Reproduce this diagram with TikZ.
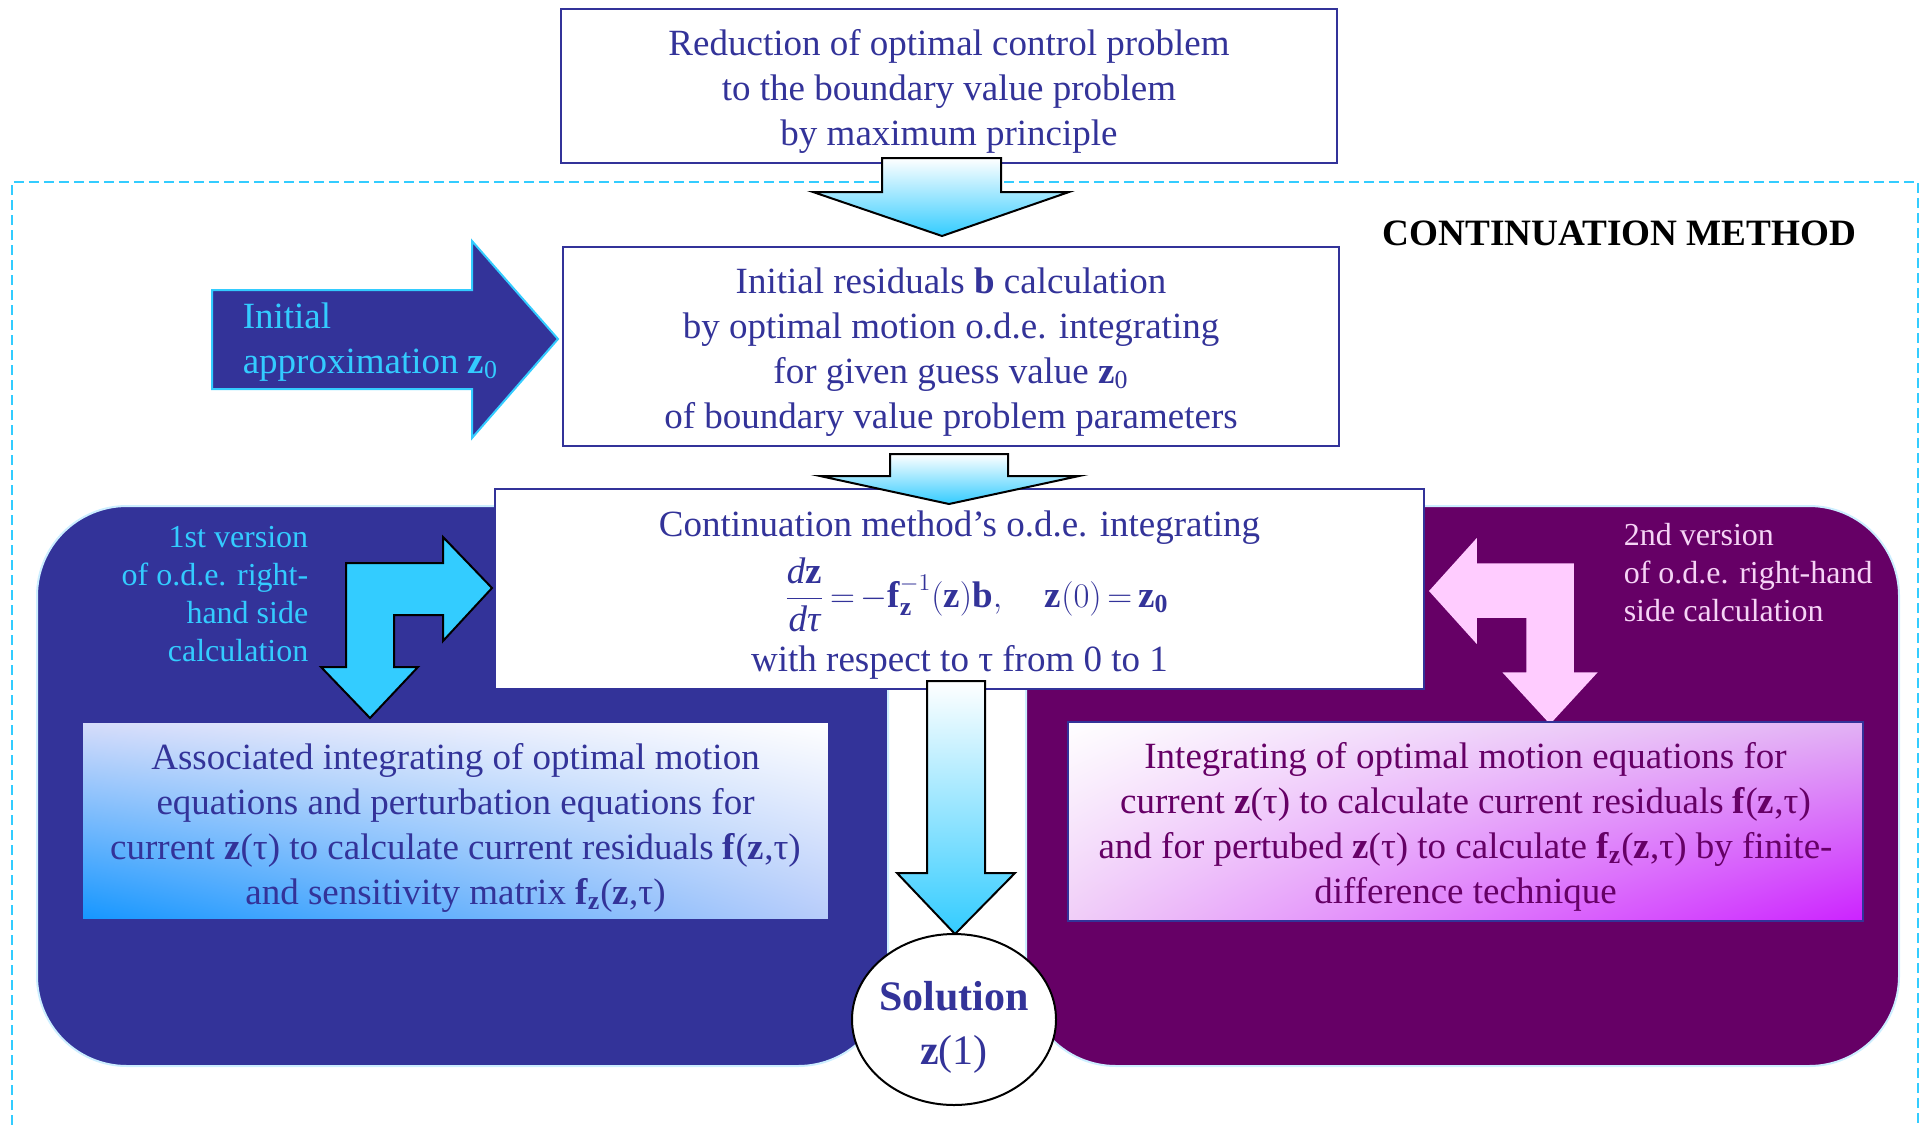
\documentclass[tikz,border=0pt]{standalone}
\usepackage{amsmath}
\usepackage{fontspec}
\setmainfont{Liberation Serif}
\usetikzlibrary{shapes.geometric,shadings}

\definecolor{navy}{RGB}{51,51,153}
\definecolor{plum}{RGB}{102,0,102}
\definecolor{skyarrow}{RGB}{51,204,255}
\definecolor{pinkarrow}{RGB}{255,204,255}
\definecolor{pinktext}{RGB}{246,212,246}
\definecolor{rimlight}{RGB}{204,238,255}
\definecolor{bluedeep}{RGB}{20,150,255}
\definecolor{bluetl}{RGB}{214,220,250}
\definecolor{bluebr}{RGB}{184,204,250}
\definecolor{violetdeep}{RGB}{204,34,255}
\definecolor{violettr}{RGB}{226,178,244}
\definecolor{violetbl}{RGB}{240,206,248}

\tikzset{every picture/.style={line width=0.75pt}}
\tikzset{
  flowbox/.style={draw=navy, fill=white, line width=1pt, inner sep=0pt},
  boxtext/.style={align=center, inner sep=0pt, text=navy, font=\fontsize{18.5}{22.5}\selectfont},
  sidenote/.style={inner sep=0pt, font=\fontsize{16}{19}\selectfont},
  fatdown/.style={draw=black, line width=1pt, top color=white, bottom color=skyarrow},
  region/.style={draw=rimlight, line width=1pt, rounded corners=45pt},
}

\begin{document}
\begin{tikzpicture}[x=0.5pt,y=0.5pt,yscale=-1,xscale=1]
	\useasboundingbox (0,0) rectangle (1925,1124);

	%Shape: Dashed Frame (runs below the bottom edge)
	\draw [skyarrow, dash pattern=on 5pt off 2.5pt, line width=1pt] (12,1140) -- (12,182) -- (1918,182) -- (1918,1140);

	%Shape: Rectangle
	\draw (949,86) node (reduce) [flowbox, minimum width=388pt, minimum height=77pt] {};
	% Text Node
	\draw (949,91) node (reduceText) [boxtext]
		{Reduction of optimal control problem\\to the boundary value problem\\by maximum principle};

	%Shape: Down Arrow
	\draw [fatdown] (882,158) -- (1001,158) -- (1001,192) -- (1069,192) -- (942,236) -- (813,192) -- (882,192) -- cycle ;

	% Text Node
	\draw (1619.5,245) node (title) [anchor=base, inner sep=0pt, font=\fontsize{18.6}{22}\selectfont\bfseries] {CONTINUATION METHOD};

	%Shape: Rectangle
	\draw (951,346.5) node (residual) [flowbox, minimum width=388pt, minimum height=99.5pt] {};
	% Text Node
	\draw (951,352) node (residualText) [boxtext]
		{Initial residuals \textbf{b} calculation\\by optimal motion o.d.e. integrating\\for given guess value \textbf{z}\textsubscript{0}\\of boundary value problem parameters};

	%Shape: Right Arrow
	\draw [fill=navy, draw=skyarrow, line width=1pt] (212,290) -- (472,290) -- (472,241) -- (558,339) -- (472,438) -- (472,389) -- (212,389) -- cycle ;
	% Text Node
	\draw (242,342) node (guess) [anchor=west, align=left, inner sep=0pt, text=skyarrow, font=\fontsize{18.5}{22.5}\selectfont]
		{Initial\\approximation \textbf{z}\textsubscript{0}};

	%Shape: Rounded Rectangle
	\draw [region, fill=navy] (37,506) rectangle (888,1066);
	%Shape: Rounded Rectangle
	\draw [region, fill=plum] (1026,506) rectangle (1899,1066);

	%Shape: Rectangle
	\draw (959.5,589) node (contin) [flowbox, minimum width=464.5pt, minimum height=100pt] {};
	% Text Node
	\draw (959.5,595) node (continText) [boxtext]
		{Continuation method’s o.d.e. integrating\\[6pt]
		\hspace*{17pt}$\displaystyle\frac{\textit{d}\textbf{z}}{\textit{dτ}}\,{=}\,{-}\textbf{f}_{\textbf{z}}^{-1}(\textbf{z})\textbf{b},\quad\textbf{z}(0)\,{=}\,\textbf{z}_{\textbf{0}}$\\[6pt]
		with respect to τ from 0 to 1};

	%Shape: Down Arrow
	\draw [fatdown] (890,454) -- (1008,454) -- (1008,476) -- (1079,476) -- (949,504) -- (820,476) -- (890,476) -- cycle ;

	%Shape: Bent Arrow
	\draw [fill=skyarrow, draw=black, line width=1pt] (370,718) -- (321,667) -- (346,667) -- (346,563) -- (443,563) -- (443,537) -- (492,588) -- (443,641) -- (443,615) -- (394,615) -- (394,667) -- (418,667) -- cycle ;
	% Text Node
	\draw (309,594.5) node (firstver) [sidenote, anchor=east, align=right, text=skyarrow]
		{1st version\\of o.d.e. right-\\hand side\\calculation};

	%Shape: Bent Arrow
	\draw [fill=pinkarrow, draw=pinkarrow] (1430,591) -- (1476,540) -- (1476,564) -- (1573,564) -- (1573,673) -- (1596,673) -- (1550,723) -- (1504,673) -- (1527,673) -- (1527,617) -- (1476,617) -- (1476,642) -- cycle ;
	% Text Node
	\draw (1623,572.5) node (secondver) [sidenote, anchor=west, align=left, text=pinktext]
		{2nd version\\of o.d.e. right-hand\\side calculation};

	%Shape: Rectangle
	\draw (455.5,821) node (assoc) [flowbox, minimum width=373.5pt, minimum height=99pt,
		lower left=bluedeep, upper left=bluetl, lower right=bluebr, upper right=white] {};
	% Text Node
	\draw (455.5,827.5) node (assocText) [boxtext]
		{Associated integrating of optimal motion\\equations and perturbation equations for\\current \textbf{z}(τ) to calculate current residuals \textbf{f}(\textbf{z},τ)\\and sensitivity matrix \textbf{f}\textsubscript{\textbf{z}}(\textbf{z},τ)};

	%Shape: Rectangle
	\draw (1465.5,821.5) node (finite) [flowbox, minimum width=397.5pt, minimum height=99.5pt,
		upper left=white, upper right=violettr, lower left=violetbl, lower right=violetdeep] {};
	% Text Node
	\draw (1465.5,827) node (finiteText) [boxtext, text=plum]
		{Integrating of optimal motion equations for\\current \textbf{z}(τ) to calculate current residuals \textbf{f}(\textbf{z},τ)\\and for pertubed \textbf{z}(τ) to calculate \textbf{f}\textsubscript{\textbf{z}}(\textbf{z},τ) by finite-\\difference technique};

	%Shape: Down Arrow
	\draw [fatdown] (927,681) -- (985,681) -- (985,873) -- (1015,873) -- (955,934) -- (897,873) -- (927,873) -- cycle ;

	%Shape: Ellipse
	\draw (954,1019.5) node (solution) [ellipse, draw=black, fill=white, line width=1pt, minimum width=102pt, minimum height=85.5pt] {};
	% Text Node
	\draw (954,1027) node (soltext) [align=center, inner sep=0pt, text=navy, font=\fontsize{21}{27}\selectfont]
		{\textbf{Solution}\\\textbf{z}(1)};

\end{tikzpicture}
\end{document}
